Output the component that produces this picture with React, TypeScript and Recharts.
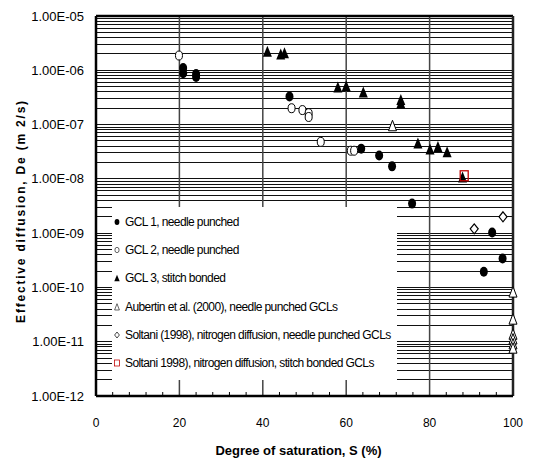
import React from 'react';
import { ScatterChart, Scatter, XAxis, YAxis, ReferenceLine, Legend } from 'recharts';

// Degree of saturation S (%) and effective diffusion De (m2/s)
const gcl1S = [20.9, 20.9, 24.0, 24.0, 46.4, 63.6, 67.9, 71.0, 75.8, 95.0, 97.5, 93.0];
const gcl1De = [1.1e-6, 8.8e-7, 8.5e-7, 7.5e-7, 3.3e-7, 3.6e-8, 2.7e-8, 1.7e-8, 3.5e-9, 1.03e-9, 3.4e-10, 1.95e-10];

const gcl2S = [19.9, 46.9, 49.5, 51.0, 51.0, 53.9, 61.1, 61.9];
const gcl2De = [1.87e-6, 2.0e-7, 1.85e-7, 1.62e-7, 1.38e-7, 4.8e-8, 3.3e-8, 3.3e-8];

const gcl3S = [41.1, 44.3, 45.2, 58.0, 60.0, 64.1, 73.1, 73.1, 77.2, 80.1, 82.0, 84.2, 87.9];
const gcl3De = [2.25e-6, 2.0e-6, 2.1e-6, 4.9e-7, 5.2e-7, 4.0e-7, 2.9e-7, 2.5e-7, 4.6e-8, 3.55e-8, 3.95e-8, 3.15e-8, 1.08e-8];

const aubertinS = [71.1, 100, 100, 100, 100, 100, 100];
const aubertinDe = [9.5e-8, 8.2e-11, 2.6e-11, 1.37e-11, 1.12e-11, 9.1e-12, 7.6e-12];

const soltaniNpS = [97.6, 90.7];
const soltaniNpDe = [2.0e-9, 1.2e-9];

const soltaniSbS = [88.3];
const soltaniSbDe = [1.14e-8];

const xTicks = [0, 4, 8, 12, 16, 20, 24, 28, 32, 36, 40, 44, 48, 52, 56, 60, 64, 68, 72, 76, 80, 84, 88, 92, 96, 100];
const yTicks = [1e-12, 1e-11, 1e-10, 1e-9, 1e-8, 1e-7, 1e-6, 1e-5];

const legendNames = [
  'GCL 1, needle punched',
  'GCL 2, needle punched',
  'GCL 3, stitch bonded',
  'Aubertin et al. (2000), needle punched GCLs',
  'Soltani (1998), nitrogen diffusion, needle punched GCLs',
  'Soltani 1998), nitrogen diffusion, stitch bonded GCLs',
];

const FONT = '"Liberation Sans", Arial, sans-serif';

const zip = (xs: number[], ys: number[]) => xs.map((x, i) => ({ x, y: ys[i] }));

// minor gridlines 1..9 x 10^k
const gridValues: number[] = [];
for (let k = -12; k <= -6; k++) {
  for (let m = 1; m <= 9; m++) {
    if (k === -12 && m === 1) continue;
    gridValues.push(Number(`${m}e${k}`));
  }
}

type ShapeProps = { cx?: number; cy?: number };

const filledDot = ({ cx = 0, cy = 0 }: ShapeProps) => <ellipse cx={cx} cy={cy} rx={4} ry={5} fill="#000" />;
const openDot = ({ cx = 0, cy = 0 }: ShapeProps) => (
  <ellipse cx={cx} cy={cy} rx={3.5} ry={4.5} fill="#fff" stroke="#000" strokeWidth={1} />
);
const filledTri = ({ cx = 0, cy = 0 }: ShapeProps) => (
  <path d={`M${cx},${cy - 5.5}L${cx + 4.5},${cy + 5.5}L${cx - 4.5},${cy + 5.5}Z`} fill="#000" />
);
const openTri = ({ cx = 0, cy = 0 }: ShapeProps) => (
  <path d={`M${cx},${cy - 5.5}L${cx + 4},${cy + 5}L${cx - 4},${cy + 5}Z`} fill="#fff" stroke="#000" strokeWidth={1} />
);
const openDiamond = ({ cx = 0, cy = 0 }: ShapeProps) => (
  <path d={`M${cx},${cy - 5}L${cx + 4},${cy}L${cx},${cy + 5}L${cx - 4},${cy}Z`} fill="#fff" stroke="#000" strokeWidth={1.2} />
);
const redSquare = ({ cx = 0, cy = 0 }: ShapeProps) => (
  <rect x={cx - 4} y={cy - 5} width={8} height={10} fill="none" stroke="#c00000" strokeWidth={1.3} />
);

const shapes = [filledDot, openDot, filledTri, openTri, openDiamond, redSquare];

const fmtY = (v: number) => {
  const e = Math.round(Math.log10(v));
  const sign = e < 0 ? '-' : '+';
  return `1.00E${sign}${String(Math.abs(e)).padStart(2, '0')}`;
};

const XTick = (props: any) => {
  const { x, y, payload } = props;
  const v = payload.value as number;
  const major = v % 20 === 0;
  return (
    <g>
      {!major && <line x1={x} x2={x} y1={y - 4} y2={y} stroke="#000" strokeWidth={1} />}
      {major && (
        <text x={x} y={y + 31} textAnchor="middle" fontSize={12} fill="#000" fontFamily={FONT}>
          {v}
        </text>
      )}
    </g>
  );
};

const renderLegend = () => (
  <div style={{ background: '#fff', width: 285, height: 173, paddingTop: 1, boxSizing: 'border-box', fontFamily: FONT }}>
    {legendNames.map((name, i) => (
      <div key={name} style={{ display: 'flex', alignItems: 'center', height: 28.2 }}>
        <svg width={12} height={12} style={{ marginLeft: 0, flex: 'none' }}>
          <g transform="translate(5,6) scale(0.6) translate(-5,-6)">{shapes[i]({ cx: 5, cy: 6 })}</g>
        </svg>
        <span style={{ fontSize: 12, letterSpacing: -0.6, color: '#000', marginLeft: 1, whiteSpace: 'nowrap' }}>{name}</span>
      </div>
    ))}
  </div>
);

export default function App() {
  const series = [
    zip(gcl1S, gcl1De),
    zip(gcl2S, gcl2De),
    zip(gcl3S, gcl3De),
    zip(aubertinS, aubertinDe),
    zip(soltaniNpS, soltaniNpDe),
    zip(soltaniSbS, soltaniSbDe),
  ];

  return (
    <div style={{ position: 'absolute', left: 0, top: 0, width: 534, height: 462, background: '#fff', fontFamily: FONT }}>
      <ScatterChart width={534} height={462} margin={{ top: 16, right: 21, bottom: 0, left: 0 }}>
        <XAxis
          type="number"
          dataKey="x"
          domain={[0, 100]}
          ticks={xTicks}
          interval={0}
          tickSize={0}
          tickMargin={0}
          tick={<XTick />}
          axisLine={{ stroke: '#000', strokeWidth: 2.5 }}
          height={66}
          label={{
            value: 'Degree of saturation, S (%)',
            content: (p: any) => {
              const vb = p.viewBox || { x: 96, y: 396, width: 417 };
              return (
                <text x={vb.x + vb.width / 2 - 6} y={vb.y + 59} textAnchor="middle" fontSize={13} fontWeight="bold" fill="#000" fontFamily={FONT}>
                  Degree of saturation, S (%)
                </text>
              );
            },
          }}
        />
        <YAxis
          type="number"
          dataKey="y"
          scale="log"
          domain={[1e-12, 1e-5]}
          allowDataOverflow
          ticks={yTicks}
          interval={0}
          tickFormatter={fmtY}
          tickLine={false}
          tickSize={0}
          tickMargin={12}
          tick={{ fontSize: 13, fill: '#000', fontFamily: FONT }}
          axisLine={{ stroke: '#000', strokeWidth: 2.5 }}
          width={96}
          label={{
            value: 'Effective diffusion, De (m 2/s)',
            content: (p: any) => {
              const vb = p.viewBox || { x: 0, y: 16, height: 380 };
              const cy = vb.y + vb.height / 2 + 5;
              return (
                <text
                  x={25}
                  y={cy}
                  transform={`rotate(-90, 25, ${cy})`}
                  textAnchor="middle"
                  fontSize={12}
                  fontWeight="bold"
                  letterSpacing={1.8}
                  fill="#000"
                  fontFamily={FONT}
                >
                  Effective diffusion, De (m 2/s)
                </text>
              );
            },
          }}
        />
        {gridValues.map((v) => (
          <ReferenceLine key={v} y={v} stroke="#111" strokeWidth={1} shapeRendering="crispEdges" />
        ))}
        {[20, 40, 60, 80].map((v) => (
          <ReferenceLine key={`vx${v}`} x={v} stroke="#444" strokeWidth={1.5} />
        ))}
        <ReferenceLine y={1e-5} stroke="#000" strokeWidth={2.5} />
        <ReferenceLine x={100} stroke="#222" strokeWidth={2.5} />
        <Legend
          layout="horizontal"
          verticalAlign="middle"
          align="center"
          content={renderLegend}
          wrapperStyle={{ position: 'absolute', left: 112, top: 207, width: 285, height: 173 }}
        />
        {series.map((data, i) => (
          <Scatter key={legendNames[i]} name={legendNames[i]} data={data} shape={shapes[i]} isAnimationActive={false} />
        ))}
      </ScatterChart>
    </div>
  );
}
